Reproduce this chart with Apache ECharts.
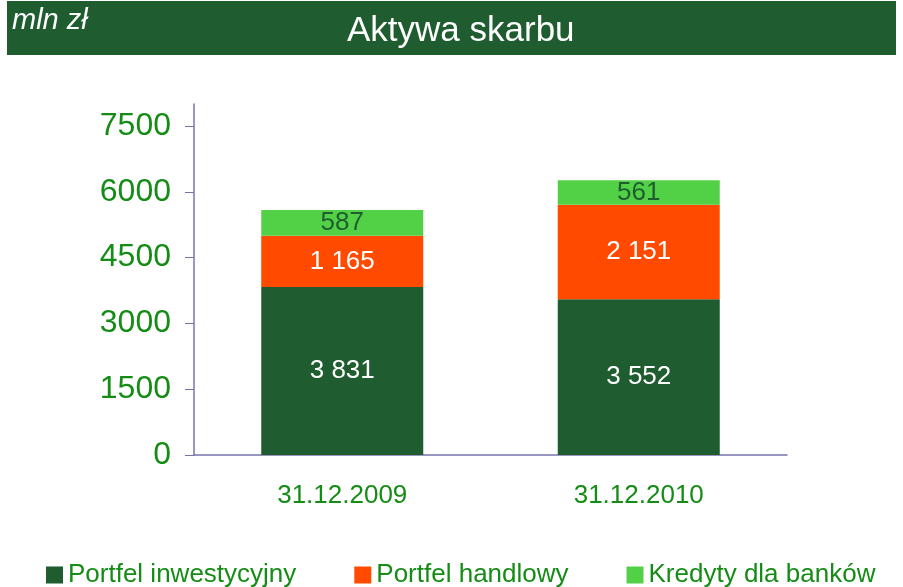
<!DOCTYPE html>
<html>
<head>
<meta charset="utf-8">
<script src="https://cdn.jsdelivr.net/npm/echarts@6/dist/echarts.min.js"></script>
<style>
  html, body { margin: 0; padding: 0; background: #fff; }
  #chart { width: 903px; height: 587px; }
</style>
</head>
<body>
<div id="chart"></div>
<script>
var categories = ['31.12.2009', '31.12.2010'];
var inwestycyjny = [3831, 3552];
var handlowy = [1165, 2151];
var kredyty = [587, 561];
var yTicks = [0, 1500, 3000, 4500, 6000, 7500];

var green = '#158c15';
var axisColor = '#7474aa';

function fmt(p) {
  return String(p.value).replace(/\B(?=(\d{3})+(?!\d))/g, ' ');
}

var myChart = echarts.init(document.getElementById('chart'));

var option = {
  animation: false,
  textStyle: { fontFamily: 'Liberation Sans, Arial, sans-serif' },
  graphic: [
    {
      type: 'rect',
      shape: { x: 7, y: 1, width: 889, height: 54 },
      style: { fill: '#1f5c30' },
      z: 0
    },
    {
      type: 'text',
      left: 12,
      top: 6,
      style: { text: 'mln zł', fill: '#fff', font: 'italic 29px Liberation Sans, Arial, sans-serif' },
      z: 1
    }
  ],
  title: {
    text: 'Aktywa skarbu',
    left: 342,
    top: 9,
    textStyle: { color: '#fff', fontSize: 35, fontWeight: 'normal' }
  },
  legend: {
    top: 557,
    left: 41,
    itemWidth: 17,
    itemHeight: 17,
    itemGap: 58,
    icon: 'rect',
    textStyle: { color: green, fontSize: 26 },
    data: ['Portfel inwestycyjny', 'Portfel handlowy', 'Kredyty dla banków']
  },
  grid: { left: 194, right: 116, top: 104, bottom: 132 },
  xAxis: {
    type: 'category',
    data: categories,
    axisLine: { lineStyle: { color: axisColor, width: 1.5 } },
    axisTick: { show: false },
    axisLabel: { color: green, fontSize: 26, margin: 28 }
  },
  yAxis: {
    type: 'value',
    min: 0,
    max: 8000,
    interval: 1500,
    splitLine: { show: false },
    axisLine: { show: true, lineStyle: { color: axisColor, width: 1.5 } },
    axisTick: { show: true, length: 9, customValues: yTicks, lineStyle: { color: axisColor } },
    axisLabel: {
      color: green, fontSize: 32, margin: 23, customValues: yTicks,
      formatter: function (v) { return String(v); }
    }
  },
  series: [
    {
      name: 'Portfel inwestycyjny',
      type: 'bar',
      stack: 'a',
      barWidth: 162,
      data: inwestycyjny,
      itemStyle: { color: '#1f5c30' },
      label: { show: true, color: '#fff', fontSize: 26, formatter: fmt }
    },
    {
      name: 'Portfel handlowy',
      type: 'bar',
      stack: 'a',
      data: handlowy,
      itemStyle: { color: '#ff4a00' },
      label: { show: true, color: '#fff', fontSize: 26, formatter: fmt }
    },
    {
      name: 'Kredyty dla banków',
      type: 'bar',
      stack: 'a',
      data: kredyty,
      itemStyle: { color: '#52d046' },
      label: { show: true, color: '#1f5c30', fontSize: 26, formatter: fmt }
    }
  ]
};

myChart.setOption(option);
</script>
</body>
</html>
